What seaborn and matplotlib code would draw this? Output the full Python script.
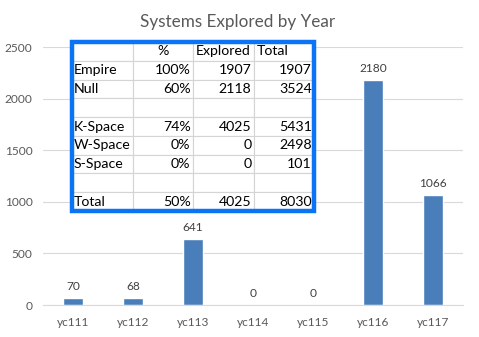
import matplotlib
matplotlib.use("Agg")
import matplotlib.pyplot as plt
import seaborn as sns
from matplotlib.patches import Rectangle

years = ["yc111", "yc112", "yc113", "yc114", "yc115", "yc116", "yc117"]
explored = [70, 68, 641, 0, 0, 2180, 1066]

row_labels = ["Empire", "Null", "", "K-Space", "W-Space", "S-Space", "", "Total"]
pct = ["100%", "60%", "", "74%", "0%", "0%", "", "50%"]
explored_sys = ["1907", "2118", "", "4025", "0", "0", "", "4025"]
total_sys = ["1907", "3524", "", "5431", "2498", "101", "", "8030"]
header = ["", "%", "Explored", "Total"]

sns.set_style("white")
plt.rcParams["font.family"] = ["Lato", "DejaVu Sans"]
grey = "#595959"

fig = plt.figure(figsize=(4.79, 3.37), dpi=100)
ax = fig.add_axes([43 / 479, 32 / 337, 420 / 479, 258 / 337])

sns.barplot(x=years, y=explored, color="#4a7ebb", width=0.32, saturation=1, ax=ax)
ax.bar_label(ax.containers[0], padding=4.5, fontsize=8.6, color="#404040")

ax.set_ylim(0, 2500)
ax.set_xlim(-0.5, 6.5)
ax.set_yticks(range(0, 2501, 500))
ax.yaxis.grid(True, color="#d9d9d9", linewidth=0.8)
ax.set_axisbelow(True)
for s in ["top", "right", "left"]:
    ax.spines[s].set_visible(False)
ax.spines["bottom"].set_color("#d9d9d9")
ax.tick_params(axis="both", length=0, labelsize=8.6, labelcolor=grey)
ax.tick_params(axis="x", pad=9)
ax.tick_params(axis="y", pad=7.5)
fig.text(238 / 479, 1 - 22 / 337, "Systems Explored by Year", ha="center", va="center",
         fontsize=12.3, color=grey)

# summary table pasted over the chart
tx0, tx1, ty0, ty1 = 72, 314, 42, 211
tax = fig.add_axes([tx0 / 479, 1 - ty1 / 337, (tx1 - tx0) / 479, (ty1 - ty0) / 337])
tax.set_axis_off()
cells = [header] + [[a, b, c, d] for a, b, c, d in zip(row_labels, pct, explored_sys, total_sys)]
col_w = [61, 60, 61, 60]
tbl = tax.table(cellText=cells, colWidths=[w / sum(col_w) for w in col_w],
                bbox=[0, 0, 1, 1], cellLoc="right")
tbl.auto_set_font_size(False)
for (r, c), cell in tbl.get_celld().items():
    cell.set_edgecolor("#d4d4d4")
    cell.set_linewidth(0.8)
    cell.set_facecolor("white")
    t = cell.get_text()
    t.set_fontsize(10.2)
    t.set_color("black")
    if c == 0:
        t.set_ha("left")
        cell.PAD = 0.03
    elif r == 0:
        t.set_ha("center" if c == 1 else "left")
        cell.PAD = 0.04
    else:
        cell.PAD = 0.04
tax.add_patch(Rectangle((0, 0), 1, 1, transform=tax.transAxes, fill=False,
                        edgecolor="#0a74f5", linewidth=3.2, clip_on=False, zorder=10))

fig.savefig("out.png", dpi=100)
